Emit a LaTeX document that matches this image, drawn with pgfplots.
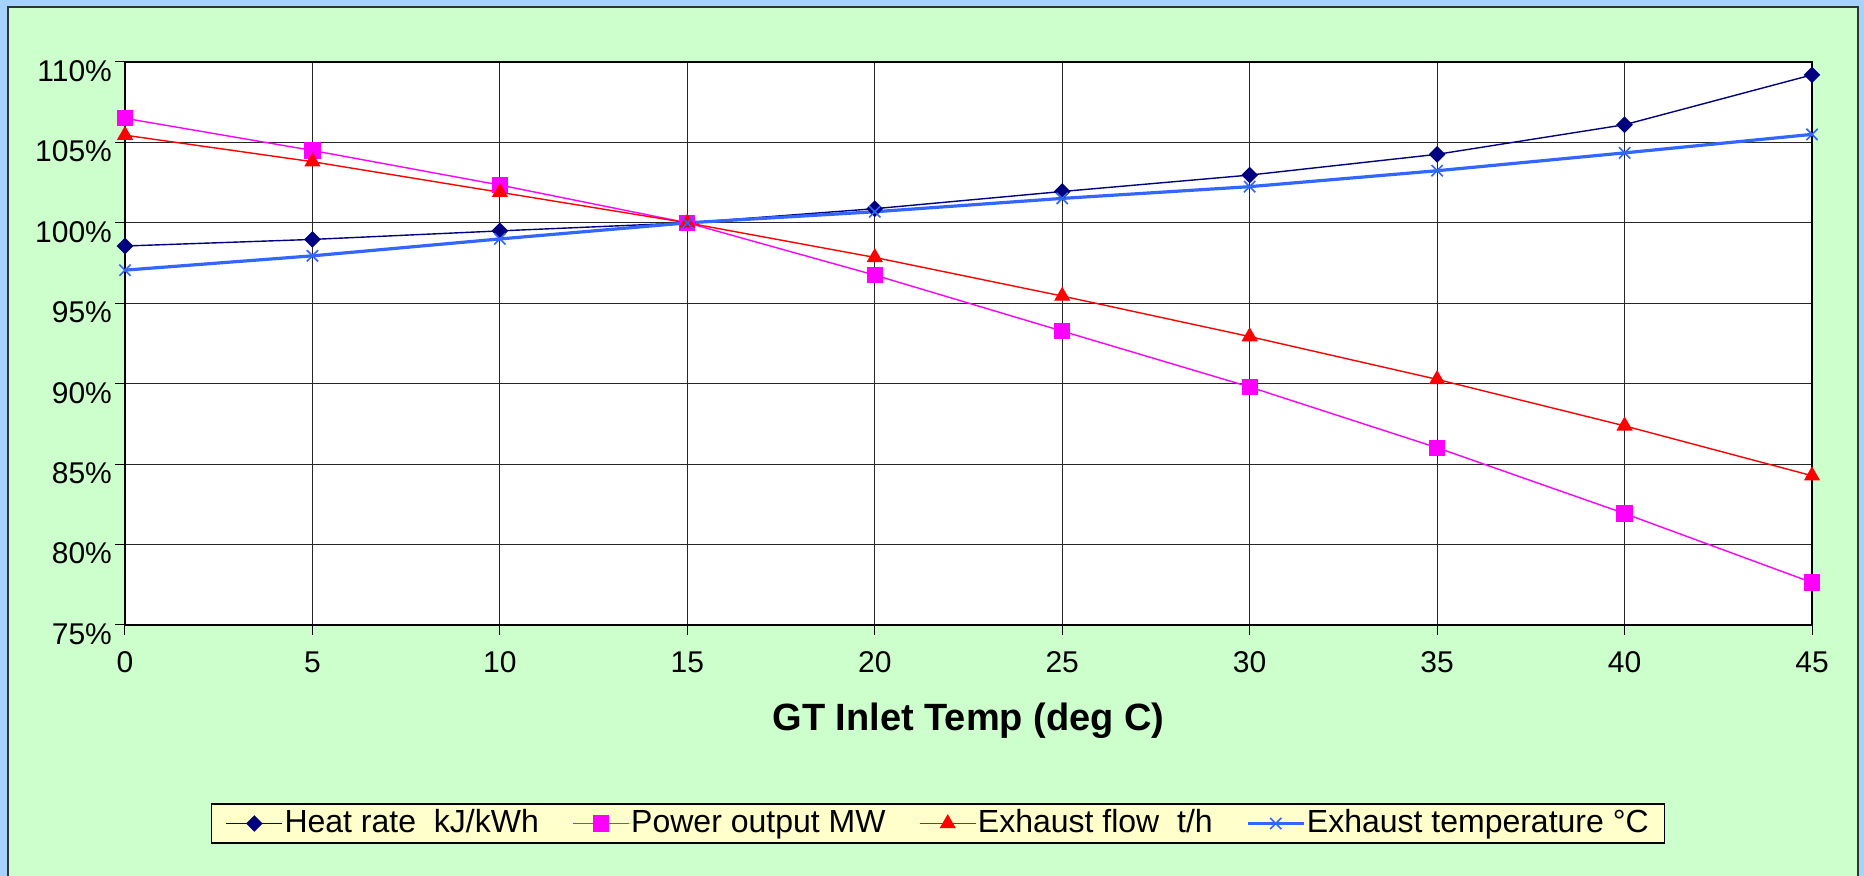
\documentclass[border=0pt]{standalone}
\usepackage{pgfplots}
\pgfplotsset{compat=1.18}
\usepackage{fontspec}
\setmainfont{Liberation Sans}
\definecolor{outerblue}{HTML}{A6D2FF}
\definecolor{chartgreen}{HTML}{CCFFCC}
\definecolor{legendyellow}{HTML}{FFFFCC}
\definecolor{hrnavy}{HTML}{000080}
\definecolor{pomag}{HTML}{FF00FF}
\definecolor{efred}{HTML}{FF0000}
\definecolor{etblue}{HTML}{3366FF}
\begin{document}
\begin{tikzpicture}
\useasboundingbox (0,0) rectangle (932pt,438pt);
\fill[outerblue] (0,0) rectangle (932pt,438pt);
\filldraw[fill=chartgreen, draw=black!80, line width=1pt] (4pt,-5pt) rectangle (929pt,434.5pt);
\begin{axis}[
  at={(62.5pt,125.5pt)}, anchor=south west,
  scale only axis, width=843.5pt, height=281.5pt,
  xmin=0, xmax=45, ymin=75, ymax=110,
  xtick={0,5,...,45}, ytick={75,80,...,110},
  yticklabels={75\%,80\%,85\%,90\%,95\%,100\%,105\%,110\%},
  tick pos=left,
  grid=major, grid style={black!85, line width=0.5pt},
  axis line style={black, line width=0.6pt},
  tick align=outside, major tick length=5pt, tick style={black, line width=0.5pt},
  ticklabel style={font=\fontsize{15}{18}\selectfont},
  yticklabel style={yshift=-4.5pt, xshift=2pt},
  xticklabel style={yshift=-4.75pt},
  /pgf/number format/assume math mode=true,
  xlabel={GT Inlet Temp (deg C)},
  xlabel style={font=\fontsize{19}{22}\selectfont\bfseries, at={(axis description cs:0.5,0)}, anchor=center, yshift=-48pt},
  axis background/.style={fill=white},
  clip=false,
  legend columns=4,
  legend style={at={(0.4819,-0.3526)}, anchor=center, fill=legendyellow, draw=black, line width=0.7pt,
    font=\fontsize{16}{19}\selectfont, inner xsep=7pt, inner ysep=2pt,
    nodes={inner xsep=0.75pt, inner ysep=0pt, text height=12pt, text depth=3.5pt},
    /tikz/every even column/.append style={column sep=16pt}},
  legend image code/.code={\draw[mark repeat=2,mark phase=2] plot coordinates {(0pt,0pt)(14pt,0pt)(28pt,0pt)};},
]
\addplot[hrnavy, line width=0.7pt, mark=square*, mark size=2.6pt, mark options={rotate=45, solid, fill=hrnavy}]
  coordinates {(0,98.56)(5,98.97)(10,99.5)(15,100)(20,100.88)(25,101.95)(30,102.97)(35,104.26)(40,106.1)(45,109.2)};
\addlegendentry{Heat rate\ \ kJ/kWh}
\addplot[pomag, line width=0.7pt, mark=square*, mark size=3.7pt, mark options={solid, fill=pomag}]
  coordinates {(0,106.5)(5,104.5)(10,102.35)(15,100)(20,96.75)(25,93.27)(30,89.8)(35,86.02)(40,81.93)(45,77.64)};
\addlegendentry{Power output MW}
\addplot[efred, line width=0.7pt, mark=triangle*, mark size=4pt, mark options={solid, fill=efred}]
  coordinates {(0,105.45)(5,103.8)(10,101.9)(15,100)(20,97.85)(25,95.45)(30,92.93)(35,90.27)(40,87.38)(45,84.28)};
\addlegendentry{Exhaust flow\ \ t/h}
\addplot[etblue, line width=1.6pt, mark=x, mark size=4pt, mark options={solid, line width=0.8pt}]
  coordinates {(0,97.06)(5,97.95)(10,99.0)(15,100)(20,100.69)(25,101.52)(30,102.25)(35,103.24)(40,104.35)(45,105.5)};
\addlegendentry{Exhaust temperature °C}
\end{axis}
\end{tikzpicture}
\end{document}
